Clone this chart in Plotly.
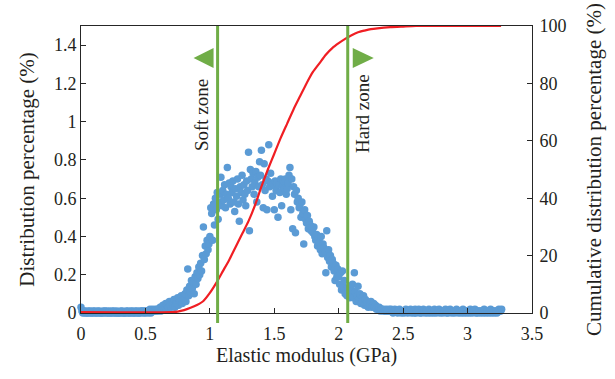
import plotly.graph_objects as go

# ---------------- data ----------------
# Distribution percentage (%) per elastic-modulus bin; bins are 1/140 GPa wide,
# each row below covers 0.1 GPa (14 bins), starting at 0.0 GPa.
dist_rows = [
    [0.03, 0.01, 0.00, 0.01, 0.00, 0.01, 0.00, 0.00, 0.01, 0.00, 0.01, 0.00, 0.00, 0.01],  # 0.0
    [0.00, 0.01, 0.00, 0.00, 0.01, 0.00, 0.01, 0.00, 0.00, 0.00, 0.01, 0.00, 0.01, 0.00],  # 0.1
    [0.01, 0.00, 0.00, 0.01, 0.00, 0.00, 0.01, 0.00, 0.01, 0.00, 0.00, 0.01, 0.00, 0.00],  # 0.2
    [0.00, 0.01, 0.00, 0.01, 0.00, 0.00, 0.00, 0.01, 0.00, 0.01, 0.00, 0.00, 0.01, 0.00],  # 0.3
    [0.01, 0.00, 0.00, 0.01, 0.00, 0.01, 0.00, 0.00, 0.01, 0.00, 0.01, 0.01, 0.00, 0.01],  # 0.4
    [0.00, 0.01, 0.01, 0.00, 0.01, 0.02, 0.00, 0.01, 0.02, 0.01, 0.01, 0.02, 0.01, 0.02],  # 0.5
    [0.01, 0.02, 0.03, 0.01, 0.02, 0.04, 0.02, 0.03, 0.05, 0.02, 0.04, 0.03, 0.06, 0.04],  # 0.6
    [0.03, 0.05, 0.04, 0.07, 0.03, 0.06, 0.05, 0.08, 0.04, 0.07, 0.06, 0.09, 0.05, 0.08],  # 0.7
    [0.07, 0.10, 0.06, 0.12, 0.23, 0.09, 0.14, 0.11, 0.17, 0.13, 0.16, 0.10, 0.19, 0.15],  # 0.8
    [0.21, 0.18, 0.24, 0.20, 0.26, 0.22, 0.30, 0.45, 0.28, 0.35, 0.31, 0.38, 0.33, 0.36],  # 0.9
    [0.40, 0.55, 0.52, 0.38, 0.57, 0.46, 0.60, 0.54, 0.63, 0.49, 0.58, 0.62, 0.71, 0.56],  # 1.0
    [0.64, 0.59, 0.67, 0.55, 0.62, 0.76, 0.60, 0.68, 0.57, 0.66, 0.63, 0.69, 0.58, 0.53],  # 1.1
    [0.65, 0.61, 0.70, 0.57, 0.48, 0.66, 0.63, 0.72, 0.59, 0.67, 0.62, 0.56, 0.69, 0.64],  # 1.2
    [0.84, 0.43, 0.75, 0.70, 0.66, 0.73, 0.62, 0.68, 0.74, 0.58, 0.71, 0.66, 0.79, 0.72],  # 1.3
    [0.85, 0.67, 0.55, 0.78, 0.64, 0.70, 0.54, 0.69, 0.88, 0.66, 0.73, 0.68, 0.61, 0.67],  # 1.4
    [0.54, 0.69, 0.64, 0.68, 0.50, 0.67, 0.63, 0.70, 0.56, 0.66, 0.69, 0.65, 0.70, 0.62],  # 1.5
    [0.65, 0.68, 0.72, 0.76, 0.54, 0.70, 0.44, 0.66, 0.62, 0.42, 0.64, 0.58, 0.60, 0.55],  # 1.6
    [0.57, 0.50, 0.58, 0.52, 0.36, 0.54, 0.49, 0.47, 0.51, 0.44, 0.48, 0.46, 0.43, 0.45],  # 1.7
    [0.42, 0.45, 0.40, 0.38, 0.41, 0.35, 0.39, 0.37, 0.33, 0.40, 0.31, 0.36, 0.34, 0.32],  # 1.8
    [0.21, 0.43, 0.29, 0.33, 0.27, 0.30, 0.24, 0.28, 0.26, 0.22, 0.17, 0.25, 0.19, 0.23],  # 1.9
    [0.19, 0.15, 0.21, 0.12, 0.22, 0.14, 0.17, 0.10, 0.12, 0.09, 0.13, 0.11, 0.08, 0.10],  # 2.0
    [0.12, 0.15, 0.08, 0.21, 0.11, 0.06, 0.09, 0.14, 0.07, 0.10, 0.05, 0.08, 0.06, 0.09],  # 2.1
    [0.04, 0.07, 0.05, 0.06, 0.03, 0.05, 0.04, 0.06, 0.03, 0.04, 0.05, 0.03, 0.04, 0.02],  # 2.2
    [0.03, 0.02, 0.03, 0.01, 0.02, 0.02, 0.01, 0.02, 0.01, 0.01, 0.02, 0.01, 0.01, 0.02],  # 2.3
    [0.01, 0.02, 0.01, 0.00, 0.01, 0.02, 0.01, 0.01, 0.00, 0.01, 0.02, 0.01, 0.00, 0.01],  # 2.4
    [0.01, 0.00, 0.01, 0.02, 0.01, 0.00, 0.01, 0.01, 0.02, 0.00, 0.01, 0.01, 0.00, 0.02],  # 2.5
    [0.00, 0.01, 0.01, 0.02, 0.00, 0.01, 0.00, 0.01, 0.02, 0.01, 0.00, 0.01, 0.01, 0.00],  # 2.6
    [0.02, 0.01, 0.00, 0.01, 0.01, 0.00, 0.02, 0.01, 0.00, 0.01, 0.01, 0.02, 0.00, 0.01],  # 2.7
    [0.01, 0.00, 0.01, 0.01, 0.02, 0.00, 0.01, 0.00, 0.01, 0.02, 0.01, 0.00, 0.01, 0.01],  # 2.8
    [0.00, 0.01, 0.02, 0.01, 0.00, 0.01, 0.01, 0.00, 0.01, 0.02, 0.00, 0.01, 0.01, 0.00],  # 2.9
    [0.01, 0.01, 0.00, 0.02, 0.01, 0.00, 0.01, 0.01, 0.02, 0.00, 0.01, 0.00, 0.01, 0.01],  # 3.0
    [0.00, 0.01, 0.01, 0.00, 0.02, 0.01, 0.00, 0.01, 0.01, 0.00, 0.01, 0.02, 0.00, 0.01],  # 3.1
    [0.01, 0.00, 0.01, 0.01, 0.00, 0.01, 0.02, 0.01, 0.01, 0.02],                          # 3.2
]
bins_per_gpa = 140
dist_values = [v for row in dist_rows for v in row]
modulus = [i / bins_per_gpa for i in range(len(dist_values))]

# Cumulative distribution percentage (%)
cum_modulus = [0.0, 0.70, 0.75, 0.80, 0.85, 0.90, 0.95, 1.00, 1.05, 1.10, 1.15, 1.20,
               1.25, 1.30, 1.35, 1.40, 1.45, 1.50, 1.55, 1.60, 1.65, 1.70, 1.75, 1.80,
               1.85, 1.90, 1.95, 2.00, 2.05, 2.10, 2.15, 2.20, 2.25, 2.30, 2.40, 2.50,
               2.60, 3.26]
cum_percent = [0.3, 0.3, 0.5, 1.0, 1.8, 2.8, 4.2, 7.0, 10.5, 14.5, 18.5, 23.0,
               27.5, 32.0, 37.5, 44.0, 50.0, 55.5, 61.0, 66.0, 71.0, 75.5, 80.0, 84.0,
               87.0, 90.0, 92.3, 94.0, 95.5, 96.8, 97.8, 98.4, 98.9, 99.2, 99.6, 99.8,
               100.0, 100.0]

# Zone boundaries (GPa)
soft_limit = 1.06
hard_limit = 2.07
zone_labels = ["Soft zone", "Hard zone"]

x_ticks = [0, 0.5, 1, 1.5, 2, 2.5, 3, 3.5]
x_ticktext = ["0", "0.5", "1", "1.5", "2", "2.5", "3", "3.5"]
y1_ticks = [0, 0.2, 0.4, 0.6, 0.8, 1.0, 1.2, 1.4]
y1_ticktext = ["0", "0.2", "0.4", "0.6", "0.8", "1", "1.2", "1.4"]
y2_ticks = [0, 20, 40, 60, 80, 100]

# ---------------- styling ----------------
FONT = "Liberation Serif"
TXT = "#231f20"
BLUE = "#5b9bd5"
RED = "#f01e23"
GREEN = "#70ad47"

fig = go.Figure()

fig.add_trace(go.Scatter(
    x=modulus, y=dist_values, mode="markers",
    marker=dict(color=BLUE, size=7.5, line=dict(width=0)),
    cliponaxis=False, showlegend=False, yaxis="y",
))

fig.add_trace(go.Scatter(
    x=cum_modulus, y=cum_percent, mode="lines",
    line=dict(color=RED, width=2.2, shape="spline", smoothing=0.6),
    cliponaxis=False, showlegend=False, yaxis="y2",
))

for xv in (soft_limit, hard_limit):
    fig.add_shape(type="line", xref="x", yref="paper", x0=xv, x1=xv, y0=-0.035, y1=1,
                  line=dict(color=GREEN, width=3), layer="above")

# zone arrows: 20x20 px triangles anchored beside each boundary line
arrow_y = 1.333
fig.add_shape(type="path", xref="x", yref="y", xsizemode="pixel", ysizemode="pixel",
              xanchor=soft_limit, yanchor=arrow_y, path="M -4,-10 L -4,10 L -24,0 Z",
              fillcolor=GREEN, line=dict(width=0))
fig.add_shape(type="path", xref="x", yref="y", xsizemode="pixel", ysizemode="pixel",
              xanchor=hard_limit, yanchor=arrow_y, path="M 5,-10 L 5,10 L 26,0 Z",
              fillcolor=GREEN, line=dict(width=0))

fig.add_annotation(x=soft_limit - 0.12, y=1.035, xref="x", yref="y", text=zone_labels[0],
                   textangle=-90, showarrow=False, font=dict(family=FONT, size=19, color=TXT))
fig.add_annotation(x=hard_limit + 0.11, y=1.045, xref="x", yref="y", text=zone_labels[1],
                   textangle=-90, showarrow=False, font=dict(family=FONT, size=19, color=TXT))

axis_common = dict(showline=True, linecolor="#262626", linewidth=1, ticks="inside",
                   ticklen=5, tickcolor="#262626", showgrid=False, zeroline=False,
                   tickfont=dict(family=FONT, size=18, color=TXT))

fig.update_layout(
    width=615, height=379,
    margin=dict(l=81, r=83, t=26, b=66),
    paper_bgcolor="white", plot_bgcolor="white",
    font=dict(family=FONT, color=TXT),
    xaxis=dict(range=[0, 3.5], tickvals=x_ticks, ticktext=x_ticktext, mirror=True,
               ticklabelstandoff=4,
               title=dict(text="Elastic modulus (GPa)", font=dict(family=FONT, size=20, color=TXT),
                          standoff=3),
               **axis_common),
    yaxis=dict(range=[0, 1.5], tickvals=y1_ticks, ticktext=y1_ticktext,
               title=dict(text="Distribution percentage (%)", font=dict(family=FONT, size=21, color=TXT),
                          standoff=13),
               **axis_common),
    yaxis2=dict(range=[0, 100], tickvals=y2_ticks, overlaying="y", side="right",
                ticklabelstandoff=3,
                title=dict(text="Cumulative distribution percentage (%)",
                           font=dict(family=FONT, size=21, color=TXT), standoff=20),
                **axis_common),
)

fig.write_html("out.html")
